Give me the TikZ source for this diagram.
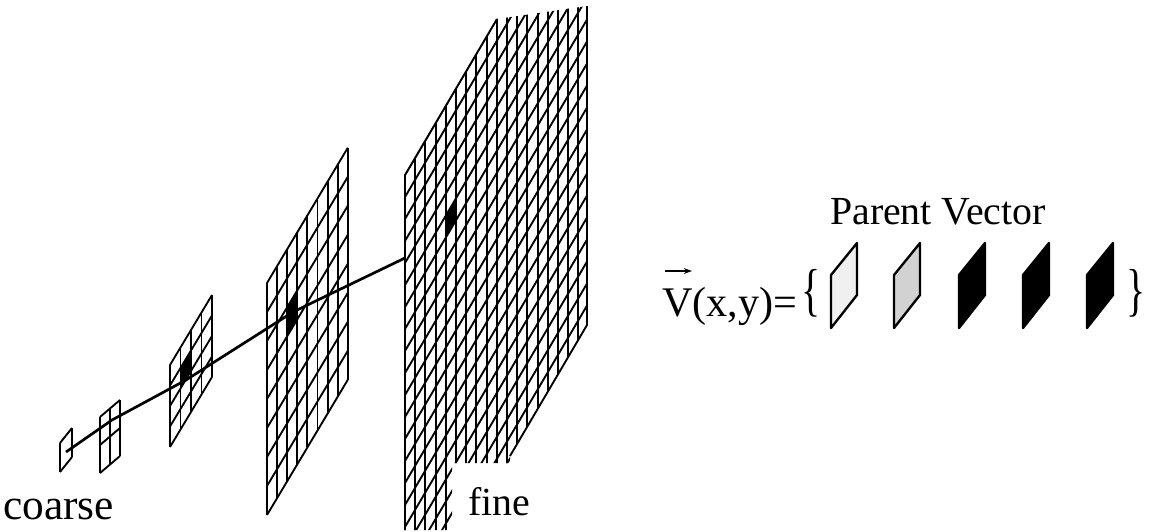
\documentclass[tikz,border=0pt]{standalone}
\usepackage{fontspec}
\usepackage{graphicx}
\setmainfont{Liberation Serif}
\usetikzlibrary{positioning, arrows.meta}

% one pyramid level: name, top-left x, top-left y, cols, rows, cell width, cell height, rise per col
\newcommand{\gridsheet}[8]{%
  \fill[white] (#2,#3) -- ++(#4*#6,-#4*#8) -- ++(0,#5*#7) -- ++(-#4*#6,#4*#8) -- cycle;
  \foreach \i in {0,...,#4}
    {\draw[sheetline] (#2+\i*#6,#3-\i*#8) -- ++(0,#5*#7);}
  \foreach \j in {0,...,#5}
    {\draw[sheetline] (#2,#3+\j*#7) -- ++(#4*#6,-#4*#8);}
  \coordinate (#1) at (#2,#3);
}
% one filled cell of a level: x0, y0, col, row, cell width, cell height, rise per col
\newcommand{\gridcell}[7]{%
  \fill[black] (#1+#3*#5,#2-#3*#7+#4*#6) -- ++(#5,-#7) -- ++(0,#6) -- ++(-#5,#7) -- cycle;
}

\begin{document}
\begin{tikzpicture}[x=0.03cm, y=-0.03cm,
  sheetline/.style={draw=black, line width=1.6pt, line join=round},
  link/.style={draw=black, line width=2.3pt},
  label/.style={font=\fontsize{34}{38}\selectfont, inner sep=0pt},
  vecbox/.style={draw=black, line width=2pt, line join=round}
]
\useasboundingbox (0,0) rectangle (1152,531);

% levels, coarse to fine
\gridsheet{lev1}{60}{443}{1}{1}{12}{29}{15}
\gridsheet{lev2}{100}{417}{2}{2}{10}{28}{8.5}
\gridsheet{lev3}{170}{365}{4}{4}{10.5}{20.5}{17.5}
\gridcell{170}{365}{1}{1}{10.5}{20.5}{17.5}
\gridsheet{lev4}{267}{283}{8}{8}{10.1}{29}{16.9}
\gridcell{267}{283}{2}{2}{10.1}{29}{16.9}

% fine level: stacked sheets, clipped to their outline
\begin{scope}
  \clip (405,175) -- (497,19) -- (587,6) -- (587,325) -- (510,456)
    -- (510,463) -- (452,463) -- (452,530) -- (405,530) -- cycle;
  \foreach \i in {0,...,18}
    {\draw[sheetline] (405+\i*10.2,0) -- (405+\i*10.2,531);}
  \foreach \j in {-2,...,22}
    {\draw[sheetline] (405,175+\j*22) -- (589,175+\j*22-312.8);}
  \fill[black] (446,215.3) -- (456.2,198) -- (456.2,220) -- (446,237.3) -- cycle;
\end{scope}
\draw[sheetline] (405,530) -- (405,175) -- (497,19);
\draw[sheetline] (587,6) -- (587,325) -- (510,456);

% parent links
\coordinate (p1) at (66,452);
\coordinate (p2) at (112,420);
\coordinate (p3) at (186,380);
\coordinate (p4) at (293,312);
\coordinate (p5) at (405,258);
\draw[link] (p1) -- (p2) -- (p3) -- (p4) -- (p5);

% labels
\node[label, font=\fontsize{37}{40}\selectfont, anchor=base west] (coarse) at (3,519) {coarse};
\node[label, anchor=base west] (fine) at (468,515) {fine};
\node[label, anchor=base] (parent) at (938,224) {Parent Vector};
\node[label, font=\fontsize{36}{40}\selectfont, anchor=base west] (vexpr) at (662,316) {V(x,y)=};
\coordinate (arrL) at (665,271);
\coordinate (arrR) at (692,271);
\draw[line width=1.2pt, -{Stealth[length=7pt, width=5pt]}] (arrL) -- (arrR);
\node[label, anchor=base west] (lbrace) at (801,309) {\scalebox{1}[1.45]{\{}};

% parent vector entries
\foreach \x/\f in {831/gray!12, 894/gray!35, 959/black, 1023/black, 1087/black}
  {\draw[vecbox, fill=\f] (\x,328) -- ++(0,-53) -- ++(26,-32) -- ++(0,52) -- cycle;}
\node[label, anchor=base west] (rbrace) at (1126,309) {\scalebox{1}[1.45]{\}}};
\end{tikzpicture}
\end{document}
